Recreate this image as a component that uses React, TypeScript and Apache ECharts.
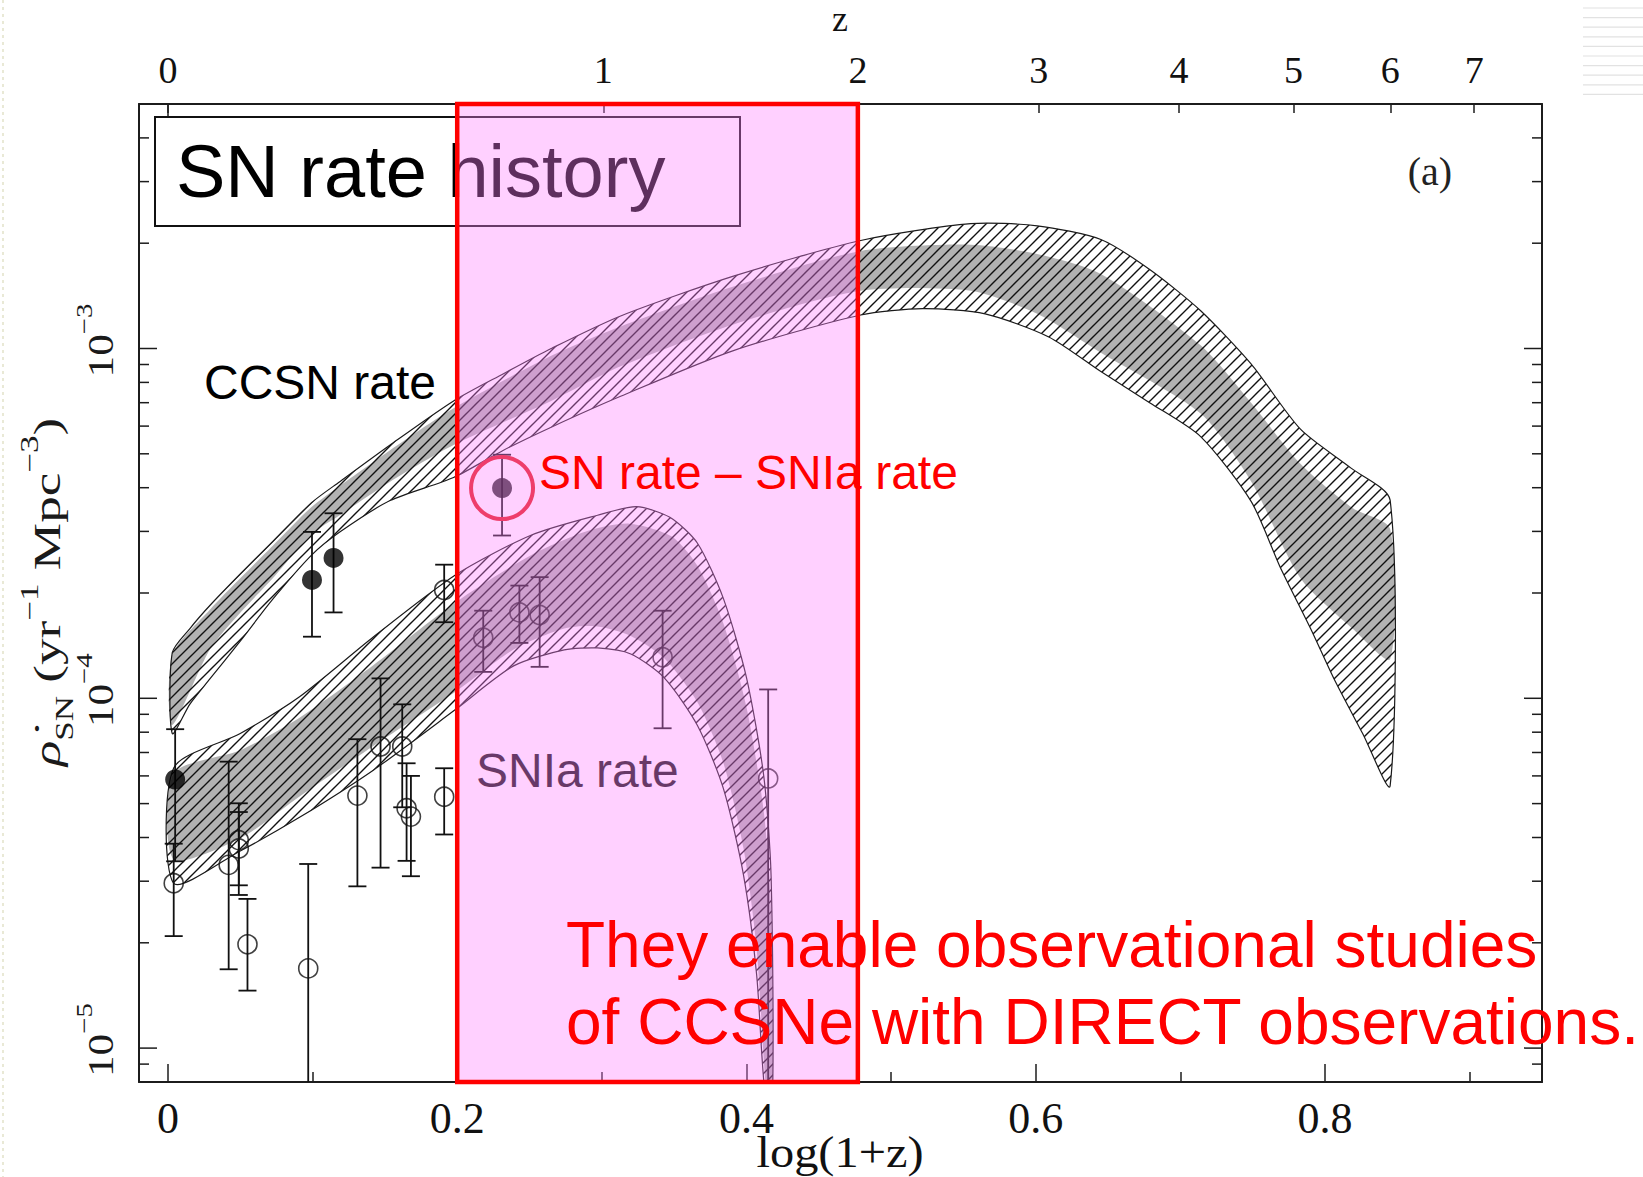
import React, { useEffect, useRef } from "react";
import * as echarts from "echarts";

const WIDTH = 1643;
const HEIGHT = 1177;
const SERIF = '"Liberation Serif", "DejaVu Serif", serif';
const SANS = '"Liberation Sans", Arial, sans-serif';
const INK = "#1c1c1c";

// axis extents: x = log10(1+z), y = SN rate per yr per Mpc^3
const X_MIN = -0.02;
const X_MAX = 0.95;
const Y_MIN = 8e-6;
const Y_MAX = 5e-3;

const xMajorTicks = [0, 0.2, 0.4, 0.6, 0.8];
const xMinorTicks = [0.1, 0.3, 0.5, 0.7, 0.9];
const zTickLabels = [0, 1, 2, 3, 4, 5, 6, 7];
const yMajorTicks = [1e-5, 1e-4, 1e-3];
const yMinorTicks = [
  9e-6, 2e-5, 3e-5, 4e-5, 5e-5, 6e-5, 7e-5, 8e-5, 9e-5,
  2e-4, 3e-4, 4e-4, 5e-4, 6e-4, 7e-4, 8e-4, 9e-4,
  2e-3, 3e-3, 4e-3,
];

// model bands, [log(1+z), rate]
const ccsnHatchUpper = [
  [0.003, 1.35e-4], [0.0152, 1.583e-4], [0.029, 1.842e-4], [0.05, 2.266e-4],
  [0.0725, 2.808e-4], [0.0993, 3.624e-4], [0.1188, 4.162e-4], [0.1536, 5.299e-4],
  [0.1975, 7.081e-4], [0.232, 8.472e-4], [0.265, 1.0e-3], [0.313, 1.239e-3],
  [0.391, 1.61e-3], [0.479, 2.036e-3], [0.555, 2.274e-3], [0.601, 2.243e-3],
  [0.645, 2.05e-3], [0.679, 1.679e-3], [0.714, 1.282e-3], [0.749, 9.02e-4],
  [0.783, 5.88e-4], [0.818, 4.55e-4], [0.845, 3.685e-4],
];
const ccsnHatchLower = [
  [0.003, 7.93e-5], [0.0152, 9.627e-5], [0.029, 1.136e-4], [0.05, 1.457e-4],
  [0.0725, 1.92e-4], [0.0993, 2.566e-4], [0.1188, 2.987e-4], [0.1536, 3.675e-4],
  [0.1975, 4.279e-4], [0.232, 5.119e-4], [0.265, 5.957e-4], [0.313, 7.3e-4],
  [0.391, 9.863e-4], [0.479, 1.247e-3], [0.522, 1.3e-3], [0.565, 1.256e-3],
  [0.609, 1.079e-3], [0.645, 8.59e-4], [0.679, 6.99e-4], [0.714, 5.599e-4],
  [0.749, 3.649e-4], [0.769, 2.37e-4], [0.79, 1.583e-4], [0.806, 1.141e-4],
  [0.826, 7.93e-5], [0.845, 5.62e-5],
];
const ccsnGrayUpper = [
  [0.003, 1.332e-4], [0.029, 1.792e-4], [0.05, 2.204e-4], [0.0725, 2.731e-4],
  [0.0993, 3.525e-4], [0.1188, 4.048e-4], [0.1536, 5.119e-4], [0.1975, 6.747e-4],
  [0.265, 9.528e-4], [0.313, 1.156e-3], [0.391, 1.503e-3], [0.479, 1.9e-3],
  [0.555, 1.981e-3], [0.601, 1.862e-3], [0.645, 1.633e-3], [0.714, 1.021e-3],
  [0.749, 6.985e-4], [0.783, 4.68e-4], [0.819, 3.5e-4], [0.845, 3.05e-4],
];
const ccsnGrayLower = [
  [0.003, 8.385e-5], [0.029, 1.379e-4], [0.05, 1.755e-4], [0.0725, 2.204e-4],
  [0.0993, 2.946e-4], [0.1188, 3.337e-4], [0.1536, 4.162e-4], [0.1975, 5.299e-4],
  [0.265, 7.081e-4], [0.313, 8.892e-4], [0.391, 1.172e-3], [0.479, 1.462e-3],
  [0.555, 1.462e-3], [0.601, 1.256e-3], [0.645, 9.727e-4], [0.714, 6.518e-4],
  [0.749, 4.162e-4], [0.783, 2.204e-4], [0.819, 1.583e-4], [0.845, 1.295e-4],
];
const iaHatchUpper = [
  [0.004, 6.32e-5], [0.05, 7.93e-5], [0.091, 1.01e-4], [0.142, 1.497e-4],
  [0.199, 2.255e-4], [0.251, 2.926e-4], [0.297, 3.337e-4], [0.324, 3.53e-4],
  [0.347, 3.291e-4], [0.366, 2.779e-4], [0.384, 1.93e-4], [0.4, 1.146e-4],
  [0.412, 5.97e-5], [0.417, 3.116e-5], [0.418, 7.3e-6],
];
const iaHatchLower = [
  [0.004, 2.957e-5], [0.05, 3.662e-5], [0.091, 4.567e-5], [0.142, 6.232e-5],
  [0.199, 9.3e-5], [0.239, 1.238e-4], [0.274, 1.375e-4], [0.297, 1.393e-4],
  [0.32, 1.339e-4], [0.343, 1.146e-4], [0.366, 8.379e-5], [0.384, 5.525e-5],
  [0.398, 3.114e-5], [0.407, 1.623e-5], [0.413, 7.3e-6],
];
const iaGrayUpper = [
  [0.004, 6.1e-5], [0.05, 7.1e-5], [0.091, 8.8e-5], [0.142, 1.243e-4],
  [0.199, 1.881e-4], [0.251, 2.566e-4], [0.29, 3.008e-4], [0.319, 3.157e-4],
  [0.348, 2.906e-4], [0.366, 2.395e-4], [0.384, 1.639e-4], [0.4, 9.43e-5],
  [0.412, 4.727e-5], [0.417, 2.454e-5], [0.418, 7.3e-6],
];
const iaGrayLower = [
  [0.004, 3.465e-5], [0.05, 3.978e-5], [0.091, 5.243e-5], [0.142, 7.305e-5],
  [0.199, 1.046e-4], [0.239, 1.379e-4], [0.274, 1.583e-4], [0.297, 1.605e-4],
  [0.32, 1.508e-4], [0.343, 1.304e-4], [0.366, 9.76e-5], [0.384, 6.54e-5],
  [0.398, 3.713e-5], [0.407, 1.927e-5], [0.414, 7.3e-6],
];

// measured rates, [log(1+z), rate, lower, upper]
const filledPoints = [
  [0.005, 5.86e-5, 3.42e-5, 8.16e-5],
  [0.0996, 2.18e-4, 1.5e-4, 2.99e-4],
  [0.1145, 2.52e-4, 1.76e-4, 3.38e-4],
  [0.231, 3.99e-4, 2.92e-4, 4.97e-4],
];
const openPoints = [
  [0.004, 2.96e-5, 2.09e-5, 3.84e-5],
  [0.042, 3.34e-5, 1.68e-5, 6.59e-5],
  [0.049, 3.93e-5, 2.92e-5, 5.01e-5],
  [0.049, 3.72e-5, 2.74e-5, 4.73e-5],
  [0.055, 1.98e-5, 1.46e-5, 2.67e-5],
  [0.097, 1.69e-5, 5e-6, 3.36e-5],
  [0.131, 5.27e-5, 2.9e-5, 7.64e-5],
  [0.147, 7.28e-5, 3.28e-5, 1.14e-4],
  [0.162, 7.28e-5, 4.88e-5, 9.61e-5],
  [0.165, 4.85e-5, 3.43e-5, 6.52e-5],
  [0.168, 4.59e-5, 3.1e-5, 6.0e-5],
  [0.191, 2.04e-4, 1.65e-4, 2.41e-4],
  [0.191, 5.23e-5, 4.08e-5, 6.31e-5],
  [0.218, 1.49e-4, 1.19e-4, 1.78e-4],
  [0.243, 1.76e-4, 1.44e-4, 2.1e-4],
  [0.257, 1.73e-4, 1.23e-4, 2.22e-4],
  [0.342, 1.31e-4, 8.21e-5, 1.78e-4],
  [0.415, 5.9e-5, 5e-6, 1.06e-4],
];
// the core-collapse estimate singled out in the annotation
const circledPoint = filledPoints[3];

// highlighted redshift window in log(1+z): z from ~0.6 to 2
const windowRange = [0.2, 0.477];

function makeHatch(bg: string | null) {
  const s = 11;
  const c = document.createElement("canvas");
  c.width = s;
  c.height = s;
  const g = c.getContext("2d")!;
  if (bg) {
    g.fillStyle = bg;
    g.fillRect(0, 0, s, s);
  }
  g.strokeStyle = "#111111";
  g.lineWidth = 1.4;
  g.beginPath();
  g.moveTo(-1, s + 1);
  g.lineTo(s + 1, -1);
  g.moveTo(-1, 1);
  g.lineTo(1, -1);
  g.moveTo(s - 1, s + 1);
  g.lineTo(s + 1, s - 1);
  g.stroke();
  return { image: c, repeat: "repeat", imageWidth: s, imageHeight: s };
}

function buildOption() {
  const whiteHatch = makeHatch("#ffffff");
  const grayHatch = makeHatch("#b2b2b2");

  const bandDefs = [
    { upper: iaHatchUpper, lower: iaHatchLower, gray: false },
    { upper: iaGrayUpper, lower: iaGrayLower, gray: true },
    { upper: ccsnHatchUpper, lower: ccsnHatchLower, gray: false },
    { upper: ccsnGrayUpper, lower: ccsnGrayLower, gray: true },
  ];

  const zTickPositions = zTickLabels.map((z) => Math.log10(1 + z));
  const tickLine = { color: INK, width: 1.5 };

  const yTickSeries = (values: number[], len: number) => ({
    type: "custom",
    silent: true,
    z: 6,
    data: values.map((v) => [0, v]),
    renderItem: (params: any, api: any) => {
      const cs = params.coordSys;
      const p = api.coord([0, api.value(1)]);
      const style = { stroke: INK, lineWidth: 1.5 };
      return {
        type: "group",
        children: [
          { type: "line", shape: { x1: cs.x, y1: p[1], x2: cs.x + len, y2: p[1] }, style },
          { type: "line", shape: { x1: cs.x + cs.width - len, y1: p[1], x2: cs.x + cs.width, y2: p[1] }, style },
        ],
      };
    },
  });

  return {
    animation: false,
    backgroundColor: "#ffffff",
    grid: { left: 139, top: 104, width: 1403, height: 978, containLabel: false, outerBoundsMode: "none" },
    xAxis: [
      {
        type: "value",
        position: "bottom",
        min: X_MIN,
        max: X_MAX,
        axisLine: { show: true, onZero: false, lineStyle: { color: INK, width: 2 } },
        axisTick: { show: true, inside: true, length: 18, customValues: xMajorTicks, lineStyle: tickLine },
        axisLabel: {
          show: true,
          customValues: xMajorTicks,
          formatter: (v: number) => String(v),
          fontFamily: SERIF,
          fontSize: 44,
          color: "#111",
          margin: 14,
        },
        splitLine: { show: false },
      },
      {
        type: "value",
        position: "bottom",
        min: X_MIN,
        max: X_MAX,
        axisLine: { show: false, onZero: false },
        axisTick: { show: true, inside: true, length: 10, customValues: xMinorTicks, lineStyle: tickLine },
        axisLabel: { show: false },
        splitLine: { show: false },
      },
      {
        type: "value",
        position: "top",
        min: X_MIN,
        max: X_MAX,
        axisLine: { show: true, onZero: false, lineStyle: { color: INK, width: 2 } },
        axisTick: { show: true, inside: true, length: 9, customValues: zTickPositions, lineStyle: tickLine },
        axisLabel: {
          show: true,
          customValues: zTickPositions,
          formatter: (v: number) => String(Math.round(Math.pow(10, v) - 1)),
          fontFamily: SERIF,
          fontSize: 38,
          color: "#111",
          margin: 15,
        },
        splitLine: { show: false },
      },
      {
        type: "value",
        position: "top",
        min: X_MIN,
        max: X_MAX,
        axisLine: { show: false, onZero: false },
        axisTick: { show: true, inside: true, length: 19, customValues: [0], lineStyle: tickLine },
        axisLabel: { show: false },
        splitLine: { show: false },
      },
    ],
    yAxis: [
      {
        type: "log",
        logBase: 10,
        position: "left",
        min: Y_MIN,
        max: Y_MAX,
        axisLine: { show: true, onZero: false, lineStyle: { color: INK, width: 2 } },
        axisTick: { show: false },
        axisLabel: { show: false },
        splitLine: { show: false },
      },
      {
        type: "log",
        logBase: 10,
        position: "right",
        min: Y_MIN,
        max: Y_MAX,
        axisLine: { show: true, onZero: false, lineStyle: { color: INK, width: 2 } },
        axisTick: { show: false },
        axisLabel: { show: false },
        splitLine: { show: false },
      },
    ],
    graphic: [
      // faint slide decoration at the page edges
      ...Array.from({ length: 10 }, (_, i) => ({
        type: "line",
        z: 1,
        silent: true,
        shape: { x1: 1583, y1: 8 + i * 9.6, x2: 1643, y2: 8 + i * 9.6 },
        style: { stroke: "#e2e2e2", lineWidth: 1.2 },
      })),
      {
        type: "line",
        z: 1,
        silent: true,
        shape: { x1: 3, y1: 0, x2: 3, y2: HEIGHT },
        style: { stroke: "#e9e9d6", lineWidth: 2, lineDash: [3, 4] },
      },
      // axis titles
      {
        type: "text",
        z: 6,
        silent: true,
        x: 840,
        y: 1152,
        scaleX: 1.1,
        style: { text: "log(1+z)", font: `44px ${SERIF}`, fill: "#111", align: "center", verticalAlign: "middle" },
      },
      {
        type: "text",
        z: 6,
        silent: true,
        x: 840,
        y: 19,
        style: { text: "z", font: `36px ${SERIF}`, fill: "#111", align: "center", verticalAlign: "middle" },
      },
      {
        type: "rect",
        z: 5,
        silent: true,
        shape: { x: 155, y: 117, width: 585, height: 109 },
        style: { fill: "#ffffff", stroke: "#111", lineWidth: 2 },
      },
      {
        type: "text",
        z: 6,
        silent: true,
        x: 176,
        y: 171,
        style: { text: "SN rate history", font: `74px ${SANS}`, fill: "#000", verticalAlign: "middle" },
      },
      {
        type: "text",
        z: 6,
        silent: true,
        x: 204,
        y: 382,
        style: { text: "CCSN rate", font: `48px ${SANS}`, fill: "#000", verticalAlign: "middle" },
      },
      {
        type: "text",
        z: 6,
        silent: true,
        x: 476,
        y: 770,
        style: { text: "SNIa rate", font: `48px ${SANS}`, fill: "#111", verticalAlign: "middle" },
      },
      {
        type: "text",
        z: 6,
        silent: true,
        x: 1430,
        y: 171,
        style: { text: "(a)", font: `40px ${SERIF}`, fill: "#222", align: "center", verticalAlign: "middle" },
      },
      {
        type: "text",
        z: 6,
        silent: true,
        x: 47,
        y: 592,
        rotation: Math.PI / 2,
        scaleX: 1.4,
        style: {
          text: "{r|\u03c1\u0307}{sub|SN}{n| (yr}{sup|\u22121}{n| Mpc}{sup|\u22123}{n|)}",
          align: "center",
          verticalAlign: "middle",
          fill: "#1a1a1a",
          rich: {
            r: { fontFamily: SERIF, fontSize: 38, fontStyle: "italic", lineHeight: 60, verticalAlign: "middle" },
            n: { fontFamily: SERIF, fontSize: 38, lineHeight: 60, verticalAlign: "middle" },
            sub: { fontFamily: SERIF, fontSize: 25, lineHeight: 24, verticalAlign: "bottom" },
            sup: { fontFamily: SERIF, fontSize: 25, lineHeight: 24, verticalAlign: "top" },
          },
        },
      },
      {
        type: "text",
        z: 30,
        silent: true,
        x: 539,
        y: 472,
        style: { text: "SN rate \u2013 SNIa rate", font: `48px ${SANS}`, fill: "#ff0000", verticalAlign: "middle" },
      },
      {
        type: "text",
        z: 30,
        silent: true,
        x: 566,
        y: 945,
        style: { text: "They enable observational studies", font: `64px ${SANS}`, fill: "#ff0000", verticalAlign: "middle" },
      },
      {
        type: "text",
        z: 30,
        silent: true,
        x: 566,
        y: 1022,
        style: { text: "of CCSNe with DIRECT observations.", font: `64px ${SANS}`, fill: "#ff0000", verticalAlign: "middle" },
      },
    ],
    series: [
      {
        type: "custom",
        name: "model bands",
        silent: true,
        clip: true,
        z: 2,
        data: bandDefs.map((b) => b.upper[0]),
        renderItem: (params: any, api: any) => {
          const b = bandDefs[params.dataIndex];
          const pts = b.upper
            .map((p) => api.coord(p))
            .concat(b.lower.slice().reverse().map((p) => api.coord(p)));
          const children: any[] = [
            {
              type: "polygon",
              z2: b.gray ? 2 : 1,
              shape: { points: pts, smooth: 0.25 },
              style: { fill: b.gray ? grayHatch : whiteHatch },
            },
          ];
          if (!b.gray) {
            children.push({
              type: "polygon",
              z2: 5,
              shape: { points: pts, smooth: 0.25 },
              style: { fill: "none", stroke: "#1a1a1a", lineWidth: 1.2 },
            });
          }
          return { type: "group", children };
        },
      },
      {
        type: "custom",
        name: "error bars",
        silent: true,
        clip: true,
        z: 3,
        dimensions: ["x", "y", "lo", "hi"],
        encode: { x: 0, y: 1 },
        data: [...filledPoints, ...openPoints],
        renderItem: (params: any, api: any) => {
          const x = api.value(0);
          const top = api.coord([x, api.value(3)]);
          const bot = api.coord([x, api.value(2)]);
          const cap = 9;
          const style = { stroke: "#111", lineWidth: 1.8 };
          return {
            type: "group",
            children: [
              { type: "line", shape: { x1: top[0], y1: top[1], x2: bot[0], y2: bot[1] }, style },
              { type: "line", shape: { x1: top[0] - cap, y1: top[1], x2: top[0] + cap, y2: top[1] }, style },
              { type: "line", shape: { x1: bot[0] - cap, y1: bot[1], x2: bot[0] + cap, y2: bot[1] }, style },
            ],
          };
        },
      },
      {
        type: "scatter",
        name: "filled",
        silent: true,
        z: 4,
        symbol: "circle",
        symbolSize: 20,
        itemStyle: { color: "#000" },
        data: filledPoints.map((p) => [p[0], p[1]]),
      },
      {
        type: "scatter",
        name: "open",
        silent: true,
        z: 4,
        symbol: "circle",
        symbolSize: 19,
        itemStyle: { color: "rgba(0,0,0,0)", borderColor: "#111", borderWidth: 1.6 },
        data: openPoints.map((p) => [p[0], p[1]]),
      },
      yTickSeries(yMajorTicks, 18),
      yTickSeries(yMinorTicks, 10),
      {
        type: "custom",
        name: "rate tick labels",
        silent: true,
        z: 6,
        data: yMajorTicks.map((v) => [0, v]),
        renderItem: (params: any, api: any) => {
          const cs = params.coordSys;
          const v = api.value(1);
          const p = api.coord([0, v]);
          const exp = Math.round(Math.log10(v));
          return {
            type: "text",
            x: cs.x - 38,
            y: p[1] - 8,
            rotation: Math.PI / 2,
            scaleX: 1.2,
            style: {
              text: `{b|10}{s|\u2212${Math.abs(exp)}}`,
              align: "center",
              verticalAlign: "middle",
              fill: "#1a1a1a",
              rich: {
                b: { fontFamily: SERIF, fontSize: 36, lineHeight: 58, verticalAlign: "middle" },
                s: { fontFamily: SERIF, fontSize: 24, lineHeight: 22, verticalAlign: "top" },
              },
            },
          };
        },
      },
      {
        type: "custom",
        name: "redshift window",
        silent: true,
        z: 10,
        data: [[windowRange[0], Y_MIN]],
        renderItem: (params: any, api: any) => {
          const a = api.coord([windowRange[0], Y_MAX]);
          const b = api.coord([windowRange[1], Y_MIN]);
          return {
            type: "rect",
            shape: { x: a[0], y: a[1], width: b[0] - a[0], height: b[1] - a[1] },
            style: { fill: "rgba(255,128,255,0.37)", stroke: "#ff0000", lineWidth: 4.5 },
          };
        },
      },
      {
        type: "custom",
        name: "circled point",
        silent: true,
        z: 11,
        data: [[circledPoint[0], circledPoint[1]]],
        renderItem: (params: any, api: any) => {
          const c = api.coord([api.value(0), api.value(1)]);
          return {
            type: "circle",
            shape: { cx: c[0], cy: c[1], r: 31 },
            style: { fill: "none", stroke: "#ee3d6b", lineWidth: 4 },
          };
        },
      },
    ],
  };
}

export default function App() {
  const ref = useRef<HTMLDivElement>(null);

  useEffect(() => {
    const el = ref.current;
    if (!el) return;
    const chart = echarts.init(el, null, { renderer: "svg" });
    chart.setOption(buildOption() as any);
    return () => {
      chart.dispose();
    };
  }, []);

  return (
    <div
      ref={ref}
      style={{ position: "fixed", left: 0, top: 0, width: WIDTH, height: HEIGHT, background: "#ffffff" }}
    />
  );
}
